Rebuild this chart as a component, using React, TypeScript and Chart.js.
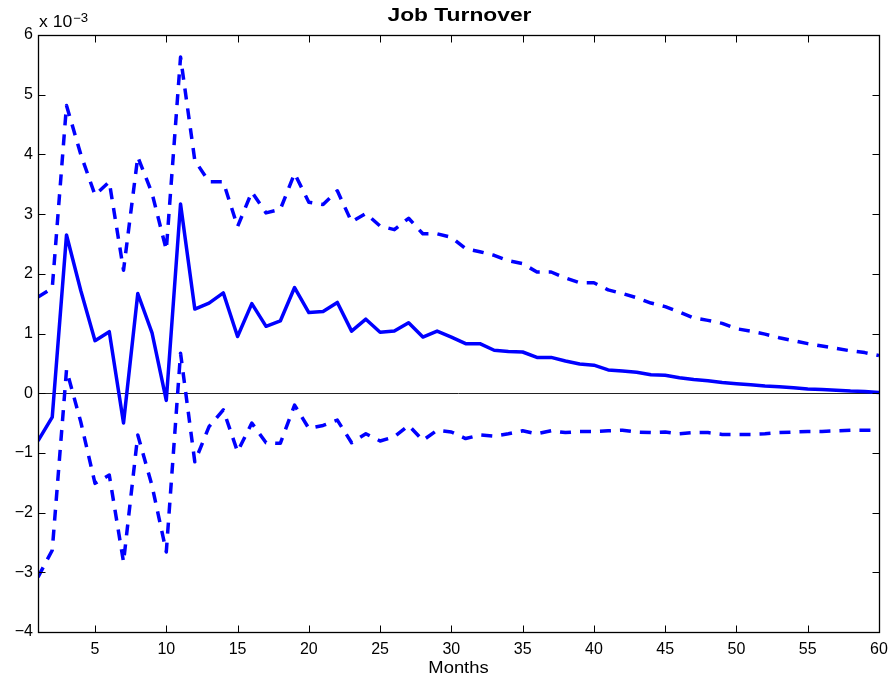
import React, { useEffect, useRef } from "react";
import { Chart, registerables } from "chart.js";

Chart.register(...registerables);

// ---- Data (values in units of 10^-3) ----
const MONTHS = [
  1, 2, 3, 4, 5, 6, 7, 8, 9, 10,
  11, 12, 13, 14, 15, 16, 17, 18, 19, 20,
  21, 22, 23, 24, 25, 26, 27, 28, 29, 30,
  31, 32, 33, 34, 35, 36, 37, 38, 39, 40,
  41, 42, 43, 44, 45, 46, 47, 48, 49, 50,
  51, 52, 53, 54, 55, 56, 57, 58, 59, 60,
];

const RESPONSE = [
  -0.8, -0.4, 2.65, 1.72, 0.88, 1.03, -0.5, 1.67, 1.01, -0.12,
  3.17, 1.41, 1.51, 1.68, 0.95, 1.5, 1.12, 1.21, 1.77, 1.35,
  1.37, 1.52, 1.04, 1.24, 1.02, 1.04, 1.18, 0.94, 1.04, 0.94,
  0.83, 0.83, 0.72, 0.7, 0.69, 0.6, 0.6, 0.54, 0.49, 0.47,
  0.39, 0.37, 0.35, 0.31, 0.3, 0.26, 0.23, 0.21, 0.18, 0.16,
  0.14, 0.12, 0.11, 0.09, 0.07, 0.06, 0.05, 0.035, 0.03, 0.01,
];

const UPPER_BAND = [
  1.61, 1.76, 4.82, 4.0, 3.32, 3.54, 2.06, 3.96, 3.35, 2.4,
  5.63, 3.9, 3.54, 3.54, 2.79, 3.37, 3.02, 3.08, 3.68, 3.2,
  3.16, 3.39, 2.87, 3.01, 2.8, 2.74, 2.93, 2.67, 2.67, 2.61,
  2.42, 2.37, 2.31, 2.22, 2.17, 2.03, 2.03, 1.93, 1.85, 1.85,
  1.73, 1.67, 1.6, 1.51, 1.45, 1.36, 1.26, 1.22, 1.17, 1.08,
  1.04, 0.99, 0.93, 0.88, 0.83, 0.79, 0.75, 0.71, 0.68, 0.63,
];

const LOWER_BAND = [
  -3.08, -2.63, 0.39, -0.48, -1.51, -1.37, -2.83, -0.7, -1.55, -2.66,
  0.67, -1.15, -0.56, -0.28, -0.98, -0.5, -0.83, -0.84, -0.2, -0.59,
  -0.54, -0.45, -0.83, -0.68, -0.8, -0.73, -0.54, -0.79, -0.62, -0.65,
  -0.76, -0.7, -0.72, -0.68, -0.63, -0.68, -0.63, -0.66, -0.64, -0.64,
  -0.63, -0.62, -0.65, -0.66, -0.65, -0.68, -0.66, -0.66, -0.69, -0.69,
  -0.69, -0.68, -0.66, -0.65, -0.64, -0.64, -0.63, -0.62, -0.62, -0.62,
];

const X_TICKS = [5, 10, 15, 20, 25, 30, 35, 40, 45, 50, 55, 60];
const Y_TICKS = [-4, -3, -2, -1, 0, 1, 2, 3, 4, 5, 6];

const TITLE = "Job Turnover";
const X_LABEL = "Months";
const EXP_BASE = "x 10";
const EXP_POWER = "\u22123";

const FONT_FAMILY = '"Liberation Sans", Arial, Helvetica, sans-serif';
const BLUE = "#0000FF";

function drawStretched(
  ctx: CanvasRenderingContext2D,
  text: string,
  x: number,
  y: number,
  font: string,
  sx: number,
  align: CanvasTextAlign
) {
  ctx.save();
  ctx.font = font;
  ctx.textAlign = align;
  ctx.textBaseline = "alphabetic";
  ctx.translate(x, y);
  ctx.scale(sx, 1);
  ctx.fillText(text, 0, 0);
  ctx.restore();
}

const framePlugin = {
  id: "matlabFrame",
  beforeDatasetsDraw(chart: any) {
    const { ctx, chartArea: a, scales } = chart;
    const y0 = Math.round(scales.y.getPixelForValue(0)) + 0.5;
    ctx.save();
    ctx.strokeStyle = "#222";
    ctx.lineWidth = 1;
    ctx.beginPath();
    ctx.moveTo(a.left, y0);
    ctx.lineTo(a.right, y0);
    ctx.stroke();
    ctx.restore();
  },
  afterDraw(chart: any) {
    const { ctx, chartArea: a, scales } = chart;
    const L = Math.round(a.left) + 0.5;
    const R = Math.round(a.right) + 0.5;
    const T = Math.round(a.top) + 0.5;
    const B = Math.round(a.bottom) + 0.5;
    const tl = 7;
    ctx.save();
    ctx.strokeStyle = "#000";
    ctx.lineWidth = 1.3;
    ctx.strokeRect(L, T, R - L, B - T);
    ctx.lineWidth = 1;
    ctx.beginPath();
    for (const v of X_TICKS) {
      const px = Math.round(scales.x.getPixelForValue(v)) + 0.5;
      ctx.moveTo(px, B);
      ctx.lineTo(px, B - tl);
      ctx.moveTo(px, T);
      ctx.lineTo(px, T + tl);
    }
    for (const v of Y_TICKS) {
      const py = Math.round(scales.y.getPixelForValue(v)) + 0.5;
      ctx.moveTo(L, py);
      ctx.lineTo(L + tl, py);
      ctx.moveTo(R, py);
      ctx.lineTo(R - tl, py);
    }
    ctx.stroke();

    ctx.fillStyle = "#000";
    const cx = (a.left + a.right) / 2;
    drawStretched(ctx, TITLE, cx + 1, a.top - 14, `bold 19px ${FONT_FAMILY}`, 1.2, "center");
    drawStretched(ctx, X_LABEL, cx, a.bottom + 40.5, `16px ${FONT_FAMILY}`, 1.15, "center");
    drawStretched(ctx, EXP_BASE, a.left + 1, a.top - 8, `16px ${FONT_FAMILY}`, 1.1, "left");
    drawStretched(ctx, EXP_POWER, a.left + 35, a.top - 13.5, `12px ${FONT_FAMILY}`, 1.1, "left");
    ctx.restore();
  },
};

export default function App() {
  const canvasRef = useRef<HTMLCanvasElement | null>(null);

  useEffect(() => {
    const canvas = canvasRef.current;
    if (!canvas) return;

    const toPoints = (arr: number[]) => MONTHS.map((m, i) => ({ x: m, y: arr[i] }));
    const tickFont = { family: FONT_FAMILY, size: 16 };
    const lineBase = {
      borderColor: BLUE,
      borderWidth: 3.5,
      borderJoinStyle: "round" as const,
      pointRadius: 0,
      fill: false,
      tension: 0,
    };

    const chart = new Chart(canvas, {
      type: "line",
      data: {
        datasets: [
          { ...lineBase, label: "Upper", data: toPoints(UPPER_BAND), borderDash: [11, 9] },
          { ...lineBase, label: "Response", data: toPoints(RESPONSE) },
          { ...lineBase, label: "Lower", data: toPoints(LOWER_BAND), borderDash: [11, 9] },
        ],
      },
      options: {
        responsive: false,
        maintainAspectRatio: false,
        animation: false,
        devicePixelRatio: 1,
        layout: { padding: { left: 0, right: 12, top: 35, bottom: 0 } },
        plugins: {
          legend: { display: false },
          title: { display: false },
          tooltip: { enabled: false },
        },
        scales: {
          x: {
            type: "linear",
            min: 1,
            max: 60,
            afterBuildTicks: (s: any) => {
              s.ticks = X_TICKS.map((v) => ({ value: v }));
            },
            afterFit: (s: any) => {
              s.height = 47;
              s.paddingLeft = 0;
              s.paddingRight = 0;
            },
            grid: { display: false, drawTicks: false },
            border: { display: false },
            ticks: {
              font: tickFont,
              color: "#000",
              padding: 8,
              maxRotation: 0,
              autoSkip: false,
              callback: (v: any) => String(v),
            },
          },
          y: {
            type: "linear",
            min: -4,
            max: 6,
            afterBuildTicks: (s: any) => {
              s.ticks = Y_TICKS.map((v) => ({ value: v }));
            },
            afterFit: (s: any) => {
              s.width = 38;
              s.paddingTop = 0;
              s.paddingBottom = 0;
            },
            grid: { display: false, drawTicks: false },
            border: { display: false },
            ticks: {
              font: tickFont,
              color: "#000",
              padding: 5,
              autoSkip: false,
              callback: (v: any) => (Number(v) < 0 ? "\u2212" + Math.abs(Number(v)) : String(v)),
            },
          },
        },
      },
      plugins: [framePlugin],
    });

    return () => chart.destroy();
  }, []);

  return (
    <div style={{ position: "fixed", left: 0, top: 0, width: 891, height: 679, background: "#fff" }}>
      <canvas ref={canvasRef} width={891} height={679} style={{ display: "block" }} />
    </div>
  );
}
